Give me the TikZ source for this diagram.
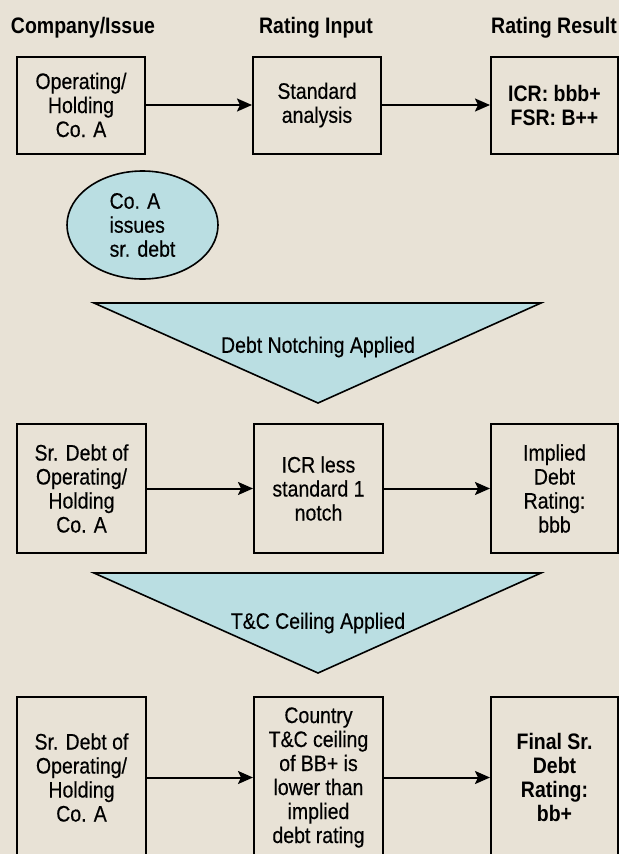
\documentclass[tikz,border=0pt]{standalone}
\usepackage{fontspec}
\setmainfont{Liberation Sans}[FakeStretch=0.87, UprightFeatures={FakeBold=0.4}]
\usetikzlibrary{shapes.geometric,arrows.meta}
\definecolor{bg}{HTML}{E8E2D6}
\definecolor{lblue}{HTML}{BADEE2}
\begin{document}
\begin{tikzpicture}[x=1pt,y=-1pt,
  font=\fontsize{22.4}{24}\selectfont,
  box/.style={draw, line width=2pt, align=center, inner sep=0pt},
  arr/.style={line width=2pt, -{Stealth[length=15pt,width=13pt,inset=3pt]}},
  hdr/.style={font=\fontsize{22.4}{24}\selectfont\bfseries, anchor=base},
  tri/.style={fill=lblue, draw, line width=1.6pt, line join=miter}]
\path[use as bounding box] (0,0) rectangle (619,854);
\fill[bg] (0,0) rectangle (619,854);
\clip (0,0) rectangle (619,854);

% headers
\node[hdr] (h1) at (83,33.5) {Company/Issue};
\node[hdr] (h2) at (316,33.5) {Rating Input};
\node[hdr] (h3) at (554,33.5) {Rating Result};

% row 1
\node[box, minimum width=128pt, minimum height=97pt] (a1) at (81,105) {Operating/\\Holding\\Co. A};
\node[box, minimum width=128pt, minimum height=97pt] (a2) at (317,105) {Standard\\analysis};
\node[box, minimum width=127pt, minimum height=97pt, font=\fontsize{22.4}{24}\selectfont\bfseries] (a3) at (554.5,105) {ICR: bbb+\\FSR: B++};
\draw[arr] (a1) -- (a2);
\draw[arr] (a2) -- (a3);

% ellipse
\node[ellipse, draw, fill=lblue, line width=1.6pt, minimum width=151pt, minimum height=108pt, align=left, inner sep=0pt] (e) at (142.5,225) {Co. A\\issues\\sr. debt};

% triangle 1
\draw[tri] (94,303) -- (541,303) -- (318,403) -- cycle;
\node (t1) at (318,347) {Debt Notching Applied};

% row 2
\node[box, minimum width=129pt, minimum height=129pt] (b1) at (81.5,488.5) {Sr. Debt of\\Operating/\\Holding\\Co. A};
\node[box, minimum width=129pt, minimum height=129pt] (b2) at (318.5,488.5) {ICR less\\standard 1\\notch};
\node[box, minimum width=127pt, minimum height=129pt] (b3) at (554.5,488.5) {Implied\\Debt\\Rating:\\bbb};
\draw[arr] (b1) -- (b2);
\draw[arr] (b2) -- (b3);

% triangle 2
\draw[tri] (94,573) -- (541,573) -- (318,673) -- cycle;
\node (t2) at (318,623) {T\&C Ceiling Applied};

% row 3
\node[box, minimum width=129pt, minimum height=161pt] (c1) at (81.5,777.5) {Sr. Debt of\\Operating/\\Holding\\Co. A};
\node[box, minimum width=129pt, minimum height=161pt] (c2) at (318.5,777.5) {Country\\T\&C ceiling\\of BB+ is\\lower than\\implied\\debt rating};
\node[box, minimum width=127pt, minimum height=161pt, font=\fontsize{22.4}{24}\selectfont\bfseries] (c3) at (554.5,777.5) {Final Sr.\\Debt\\Rating:\\bb+};
\draw[arr] (c1) -- (c2);
\draw[arr] (c2) -- (c3);
\end{tikzpicture}
\end{document}
